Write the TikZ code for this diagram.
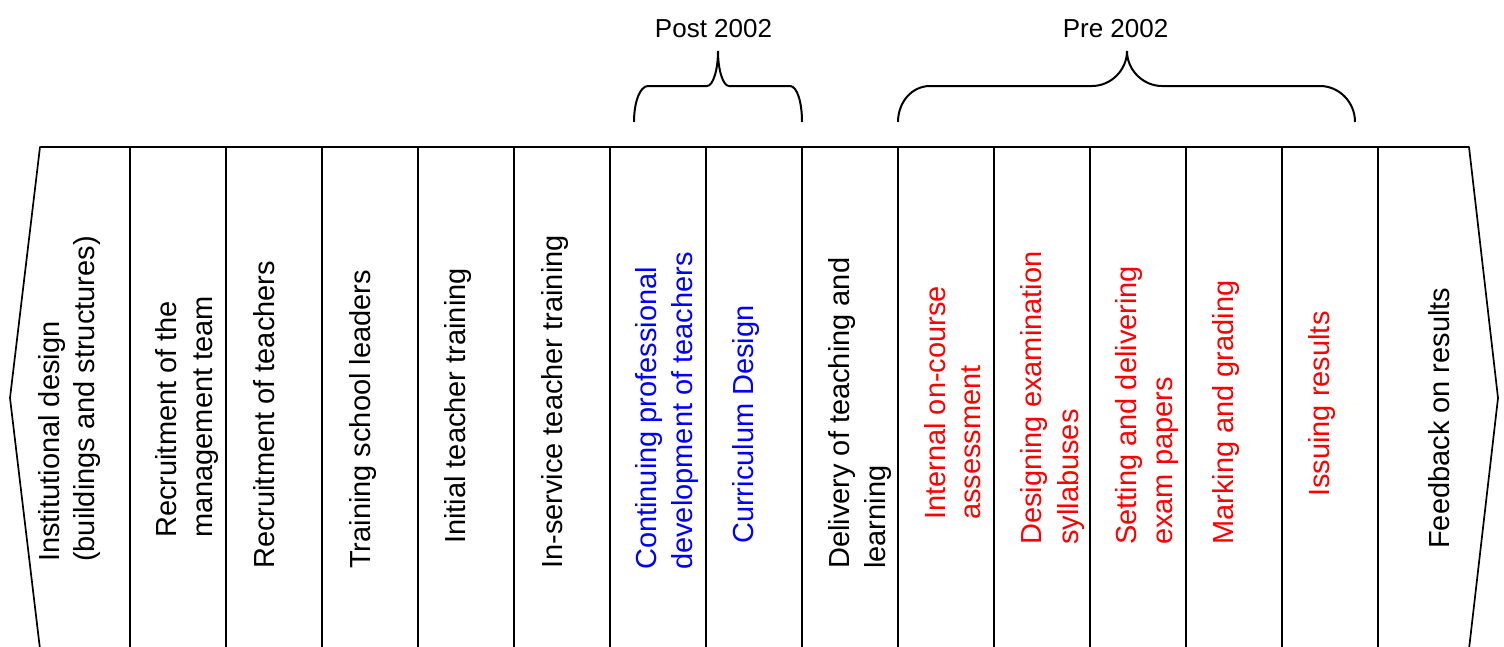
\documentclass[tikz,border=0pt]{standalone}
\usepackage{fontspec}
\setmainfont{Liberation Sans}
\begin{document}
\begin{tikzpicture}[x=1pt,y=-1pt,
  boxline/.style={draw=black, line width=2pt},
  arrline/.style={draw=black, line width=1.7pt, line join=round},
  lbl/.style={rotate=90, anchor=base west, inner sep=0pt, font=\fontsize{29}{36}\selectfont},
  blu/.style={lbl, text=blue},
  rd/.style={lbl, text=red},
  head/.style={font=\fontsize{26}{30}\selectfont, anchor=base, inner sep=0pt},
  bracel/.style={draw=black, line width=2pt}]
\useasboundingbox (0,0) rectangle (1504,646);
\clip (0,0) rectangle (1504,646);
\fill[white] (0,0) rectangle (1504,646);

% boxes
\foreach \a/\b in {130/226,226/322,322/418,418/514,514/610,610/706,706/802,802/898,898/994,994/1090,1090/1186,1186/1282,1282/1378}
  \draw[boxline] (\a,147) rectangle (\b,700);
% end arrows
\draw[arrline] (130,147) -- (40,147) -- (10,398) -- (40,649) -- (40,700);
\draw[boxline] (130,147) -- (40,147);
\draw[arrline] (1378,147) -- (1469,147) -- (1498,398) -- (1469,649) -- (1469,700);
\draw[boxline] (1378,147) -- (1469,147);

% braces
\draw[bracel] (634,122) .. controls (634,102) and (640,86) .. (648,86) -- (707,86) .. controls (713,86) and (718,70) .. (718,51);
\draw[bracel] (718,51) .. controls (718,70) and (723,86) .. (729,86) -- (790,86) .. controls (797,86) and (802,102) .. (802,122);
\draw[bracel] (898,122) .. controls (898,102) and (912,86) .. (930,86) -- (1092,86) .. controls (1111,86) and (1127,70) .. (1127,51);
\draw[bracel] (1127,51) .. controls (1127,70) and (1143,86) .. (1162,86) -- (1320,86) .. controls (1339,86) and (1355,102) .. (1355,122);

\node[head] (post) at (713.5,37) {Post 2002};
\node[head] (pre) at (1115.5,37) {Pre 2002};

% texts
\node[lbl] (t1a) at (59,562) {Institutional design};
\node[lbl] (t1b) at (94,562) {(buildings and structures)};
\node[lbl] (t2a) at (176,538) {Recruitment of the};
\node[lbl] (t2b) at (212,538) {management team};
\node[lbl] (t3) at (274,569) {Recruitment of teachers};
\node[lbl] (t4) at (370,569) {Training school leaders};
\node[lbl] (t5) at (465,544) {Initial teacher training};
\node[lbl] (t6) at (562,569) {In-service teacher training};
\node[blu] (t7a) at (656,570) {Continuing professional};
\node[blu] (t7b) at (692,570) {development of teachers};
\node[blu] (t8) at (753,544) {Curriculum Design};
\node[lbl] (t9a) at (849,569) {Delivery of teaching and};
\node[lbl] (t9b) at (885,569) {learning};
\node[rd] (t10a) at (945,520) {Internal on-course};
\node[rd] (t10b) at (980,520) {assessment};
\node[rd] (t11a) at (1041,545) {Designing examination};
\node[rd] (t11b) at (1078,545) {syllabuses};
\node[rd] (t12a) at (1136,545) {Setting and delivering};
\node[rd] (t12b) at (1172,545) {exam papers};
\node[rd] (t13) at (1233,545) {Marking and grading};
\node[rd] (t14) at (1329,497) {Issuing results};
\node[lbl] (t15) at (1449,549) {Feedback on results};
\end{tikzpicture}
\end{document}
